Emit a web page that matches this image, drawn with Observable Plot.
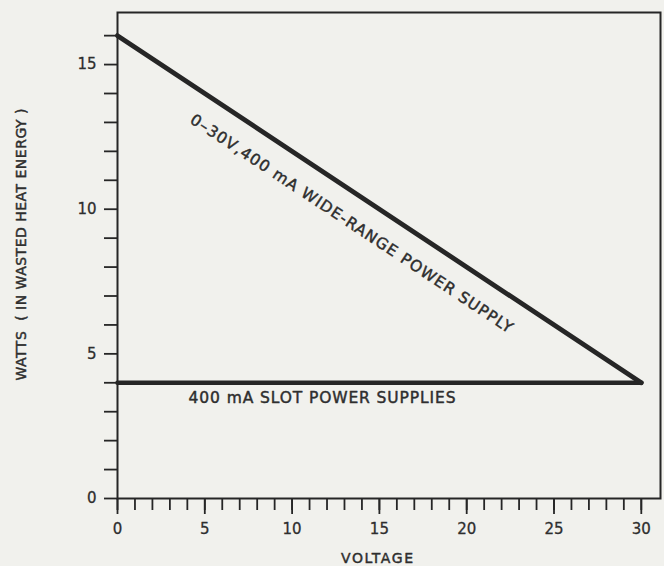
<!DOCTYPE html>
<html><head><meta charset="utf-8">
<script src="https://cdn.jsdelivr.net/npm/d3@7"></script>
<script src="https://cdn.jsdelivr.net/npm/@observablehq/plot@0.6"></script>
<style>
html,body{margin:0;padding:0;background:#f1f1ed;}
#chart svg{display:block;}
</style></head><body><div id="chart"></div>
<script>
// Data
const voltage = [0, 30];
const wideRangeWatts = [16, 4];
const slotWatts = [4, 4];
const xMinorTicks = d3.range(0, 31, 1);
const xTickLabels = [0, 5, 10, 15, 20, 25, 30];
const yMinorTicks = d3.range(0, 17, 1);
const yTickLabels = [0, 5, 10, 15];
const wideRangeLabel = "0–30V,400 mA WIDE-RANGE POWER SUPPLY";
const slotLabel = "400 mA SLOT POWER SUPPLIES";
const xTitle = "VOLTAGE";
const yTitle = "WATTS  ( IN WASTED HEAT ENERGY )";

const wide = voltage.map((v, i) => ({voltage: v, watts: wideRangeWatts[i]}));
const slot = voltage.map((v, i) => ({voltage: v, watts: slotWatts[i]}));
const wideAt = d3.scaleLinear(voltage, wideRangeWatts);
const ink = "#262626";
const txt = "#2e2e2e";
const heavy = {stroke: txt, strokeWidth: 0.45};

const wideLabelV = 13.4;

const chart = Plot.plot({
  width: 664,
  height: 566,
  marginLeft: 117,
  marginRight: 4,
  marginTop: 12,
  marginBottom: 68,
  style: {background: "transparent", fontFamily: "DejaVu Sans", color: txt},
  x: {domain: [0, 31.1]},
  y: {domain: [0, 16.8]},
  marks: [
    Plot.axisY({ticks: yMinorTicks, tickSize: 13, tickPadding: 8, strokeWidth: 1.8, stroke: ink,
      tickFormat: d => yTickLabels.includes(d) ? String(d) : "", fontSize: 15, label: null,
      textStroke: txt, textStrokeWidth: 0.3}),
    Plot.axisX({ticks: xMinorTicks, tickSize: 12, strokeWidth: 1.8, stroke: ink, tickFormat: () => "", label: null}),
    Plot.axisX({ticks: xTickLabels, tickSize: 16, tickPadding: 9, strokeWidth: 1.8, stroke: ink,
      fontSize: 15, label: null, textStroke: txt, textStrokeWidth: 0.3}),
    Plot.frame({stroke: ink, strokeWidth: 2}),
    Plot.line(slot, {x: "voltage", y: "watts", stroke: ink, strokeWidth: 4.5}),
    Plot.line(wide, {x: "voltage", y: "watts", stroke: ink, strokeWidth: 4.8, strokeLinejoin: "round"}),
    Plot.text([wideRangeLabel], {x: () => wideLabelV, y: () => wideAt(wideLabelV), text: d => d,
      rotate: 33.5, dy: 33, fontSize: 15.5, fill: txt, ...heavy}),
    Plot.text([slotLabel], {x: () => 4.07, y: () => slotWatts[0], text: d => d,
      textAnchor: "start", dy: 15, fontSize: 15.5, fill: txt, ...heavy}),
    Plot.text([xTitle], {frameAnchor: "bottom", text: d => d, lineAnchor: "middle", dx: -12, dy: 60, fontSize: 14, fill: txt, ...heavy}),
    Plot.text([yTitle], {frameAnchor: "left", text: d => d, textAnchor: "middle", lineAnchor: "middle", rotate: -90, dx: -96, dy: -11, fontSize: 14, fill: txt, ...heavy})
  ]
});
// stretch hand-lettered labels to the widths they take in the reference
const lengths = new Map([[wideRangeLabel, 383], [slotLabel, 267], [xTitle, 72], [yTitle, 272]]);
d3.select(chart).selectAll("text").each(function() {
  const L = lengths.get(this.textContent);
  if (L) { this.setAttribute("textLength", L); this.setAttribute("lengthAdjust", "spacing"); }
});
document.getElementById("chart").append(chart);
</script></body></html>
